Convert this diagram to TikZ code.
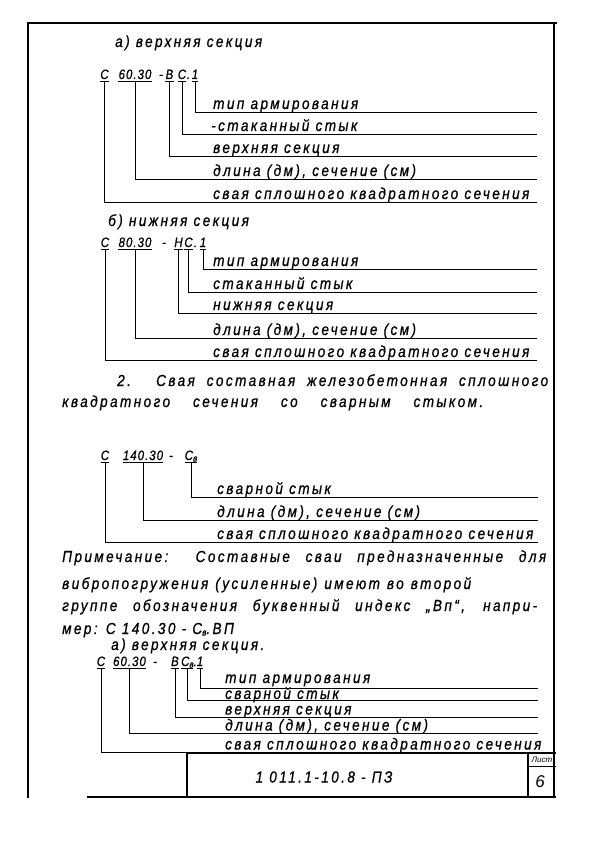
\documentclass[tikz,border=0pt]{standalone}
\usepackage{fontspec}
\setmainfont{Liberation Sans}
\newfontfamily\hand[LetterSpace=15,FakeBold=0.8,FakeStretch=0.85]{Liberation Sans}
\newfontfamily\handc[LetterSpace=7.5,FakeBold=0.8,FakeStretch=0.85]{Liberation Sans}
\newcommand{\subv}{\raisebox{-1.5pt}{\fontsize{9.5}{10}\selectfont в}}
\begin{document}
\begin{tikzpicture}[x=1pt,y=-1pt,
  lab/.style={font=\hand\itshape\fontsize{16}{18}\selectfont, anchor=base west, inner sep=0pt},
  cd/.style={font=\handc\itshape\fontsize{13.5}{15}\selectfont, anchor=base, inner sep=0pt},
  ln/.style={line width=0.9pt},
  frm/.style={line width=1.3pt}]
\useasboundingbox (0,0) rectangle (600,848);
% frame
\draw[frm] (27,23) -- (557,23);
\draw[frm] (28,23) -- (28,798);
\draw[frm] (554,23) -- (554,797);
\draw[frm] (87,797) -- (556,797);

% ---------- section a
\node[lab] (aTitle) at (115,47) {а) верхняя секция};
\node[cd] (aC) at (104.5,79) {С};
\node[cd] (aN) at (135,79) {60.30};
\node[cd] (aD) at (161,79) {-};
\node[cd] (aB) at (169.5,79) {В};
\node[cd] (aS) at (182,79) {С};
\node[cd] (aP) at (188.5,79) {.};
\node[cd] (aO) at (195,79) {1};
\coordinate (aE1) at (537,112);
\coordinate (aE2) at (537,134);
\coordinate (aE3) at (537,156);
\coordinate (aE4) at (537,179);
\coordinate (aE5) at (537,202);
\node[lab] (aT1) at (213,109) {тип армирования};
\node[lab] (aT2) at (211,131) {-стаканный стык};
\node[lab] (aT3) at (213,153) {верхняя секция};
\node[lab] (aT4) at (213,176) {длина (дм), сечение (см)};
\node[lab] (aT5) at (213,199) {свая сплошного квадратного сечения};
\foreach \n/\e in {aC/aE5, aN/aE4, aB/aE3, aS/aE2, aO/aE1}{
  \draw[ln] ([yshift=-2pt]\n.base west) -- ([yshift=-2pt]\n.base east);
  \draw[ln] ([yshift=-2pt]\n.base) |- (\e);
}

% ---------- section b
\node[lab] (bTitle) at (108,226) {б) нижняя секция};
\node[cd] (bC) at (105,247) {С};
\node[cd] (bN) at (135,247) {80.30};
\node[cd] (bD) at (164,247) {-};
\node[cd] (bH) at (178.5,247) {Н};
\node[cd] (bS) at (188.5,247) {С};
\node[cd] (bP) at (195.5,247) {.};
\node[cd] (bO) at (203,247) {1};
\coordinate (bE1) at (537,269);
\coordinate (bE2) at (537,292);
\coordinate (bE3) at (537,313);
\coordinate (bE4) at (537,338);
\coordinate (bE5) at (537,360);
\node[lab] (bT1) at (213,266) {тип армирования};
\node[lab] (bT2) at (213,289) {стаканный стык};
\node[lab] (bT3) at (213,310) {нижняя секция};
\node[lab] (bT4) at (213,335) {длина (дм), сечение (см)};
\node[lab] (bT5) at (213,357) {свая сплошного квадратного сечения};
\foreach \n/\e in {bC/bE5, bN/bE4, bH/bE3, bS/bE2, bO/bE1}{
  \draw[ln] ([yshift=-2pt]\n.base west) -- ([yshift=-2pt]\n.base east);
  \draw[ln] ([yshift=-2pt]\n.base) |- (\e);
}

% ---------- paragraph 2
\node[lab] (p1) at (117,386) {\makebox[431pt][s]{2. Свая составная железобетонная сплошного}};
\node[lab] (p2) at (62,407) {\makebox[421pt][s]{квадратного сечения со сварным стыком.}};

% ---------- section 2 code
\node[cd] (cC) at (105,460) {С};
\node[cd] (cN) at (143,460) {140.30};
\node[cd] (cD) at (171,460) {-};
\node[cd] (cS) at (191,460) {С\subv};
\coordinate (cE1) at (538,497);
\coordinate (cE2) at (538,520);
\coordinate (cE3) at (538,542);
\node[lab] (cT1) at (217,494) {сварной стык};
\node[lab] (cT2) at (217,517) {длина (дм), сечение (см)};
\node[lab] (cT3) at (217,539) {свая сплошного квадратного сечения};
\foreach \n/\e in {cC/cE3, cN/cE2, cS/cE1}{
  \draw[ln] ([yshift=-2pt]\n.base west) -- ([yshift=-2pt]\n.base east);
  \draw[ln] ([yshift=-2pt]\n.base) |- (\e);
}

% ---------- note
\node[lab] (n1) at (62,562) {\makebox[484pt][s]{Примечание: Составные сваи предназначенные для}};
\node[lab] (n2) at (62,589) {\makebox[409pt][s]{вибропогружения (усиленные) имеют во второй}};
\node[lab] (n3) at (62,611) {\makebox[475pt][s]{группе обозначения буквенный индекс „Вп“, напри-}};
\node[lab] (n4) at (62,634) {мер: С 140.30 - С\subv.ВП};

% ---------- last section
\node[lab] (dTitle) at (111,650) {а) верхняя секция.};
\node[cd] (dC) at (101,666) {С};
\node[cd] (dN) at (129.5,666) {60.30};
\node[cd] (dD) at (155,666) {-};
\node[cd] (dB) at (175,666) {В};
\node[cd] (dS) at (189,666) {С\subv.};
\node[cd] (dO) at (200,666) {1};
\coordinate (dE1) at (538,688);
\coordinate (dE2) at (538,700);
\coordinate (dE3) at (538,717);
\coordinate (dE4) at (538,733);
\coordinate (dE5) at (538,752);
\node[lab] (dT1) at (225,683) {тип армирования};
\node[lab] (dT2) at (225,699) {сварной стык};
\node[lab] (dT3) at (225,714.5) {верхняя секция};
\node[lab] (dT4) at (225,730.5) {длина (дм), сечение (см)};
\node[lab] (dT5) at (225,749.5) {свая сплошного квадратного сечения};
\foreach \n/\e in {dC/dE5, dN/dE4, dB/dE3, dO/dE1}{
  \draw[ln] ([yshift=-2pt]\n.base west) -- ([yshift=-2pt]\n.base east);
  \draw[ln] ([yshift=-2pt]\n.base) |- (\e);
}
\draw[ln] ([yshift=-2pt]dS.base west) -- ([yshift=-2pt,xshift=-4pt]dS.base east);
\draw[ln] ([yshift=-2pt,xshift=-2pt]dS.base) |- (dE2);

% ---------- title block
\draw[frm] (187,797) -- (187,753) -- (556,753);
\draw[frm] (528,753) -- (528,797);
\draw[ln] (528,766) -- (556,766);
\node[font=\hand\itshape\fontsize{16}{18}\selectfont, inner sep=0pt] (tbCode) at (324,777) {1 011.1-10.8 - ПЗ};
\node[font=\itshape\fontsize{8}{9}\selectfont, inner sep=0pt] (tbL) at (542,759.5) {Лист};
\node[font=\itshape\fontsize{17}{19}\selectfont, inner sep=0pt] (tb6) at (540,782) {6};
\end{tikzpicture}
\end{document}
